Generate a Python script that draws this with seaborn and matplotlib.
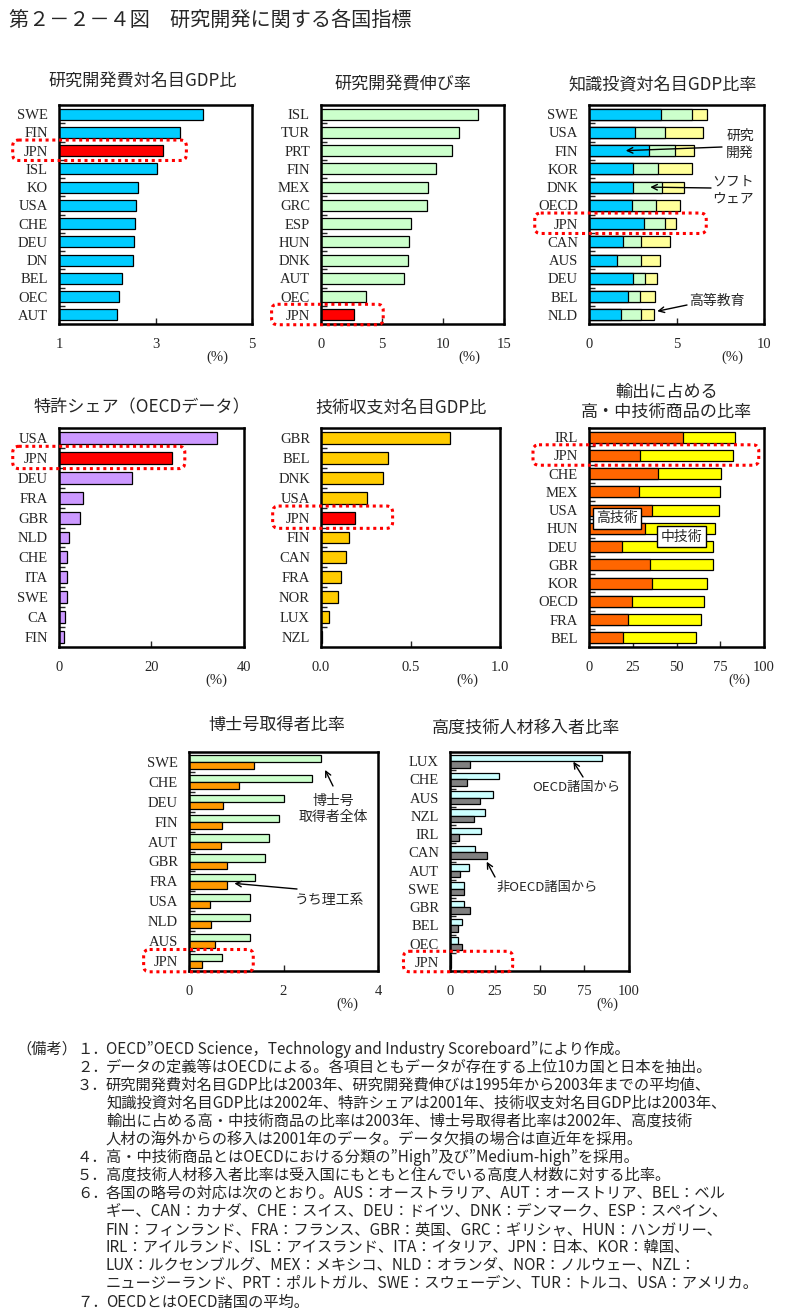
import numpy as np
import pandas as pd
import matplotlib
matplotlib.use("Agg")
import matplotlib.pyplot as plt
from matplotlib.patches import FancyBboxPatch
from matplotlib.transforms import blended_transform_factory
import seaborn as sns

sns.set_style("ticks")
plt.rcParams["font.family"] = ["Noto Sans CJK JP", "DejaVu Sans"]

W, H = 794, 1315
SERIF = ["Liberation Serif", "DejaVu Serif"]
RED = "#FF0000"

# ─────────────────────────────────────────────
# data
# ─────────────────────────────────────────────
rd_countries = ["SWE", "FIN", "JPN", "ISL", "KO", "USA", "CHE", "DEU", "DN", "BEL", "OEC", "AUT"]
rd_values = [3.99, 3.51, 3.16, 3.04, 2.64, 2.60, 2.58, 2.56, 2.54, 2.31, 2.25, 2.21]

growth_countries = ["ISL", "TUR", "PRT", "FIN", "MEX", "GRC", "ESP", "HUN", "DNK", "AUT", "OEC", "JPN"]
growth_values = [12.9, 11.3, 10.7, 9.4, 8.8, 8.7, 7.4, 7.2, 7.1, 6.8, 3.7, 2.7]

know_countries = ["SWE", "USA", "FIN", "KOR", "DNK", "OECD", "JPN", "CAN", "AUS", "DEU", "BEL", "NLD"]
know_rd = [4.13, 2.64, 3.44, 2.53, 2.53, 2.45, 3.16, 1.96, 1.62, 2.53, 2.24, 1.83]
know_sw = [1.77, 1.73, 1.50, 1.39, 1.63, 1.35, 1.21, 1.01, 1.36, 0.68, 0.65, 1.15]
know_edu = [0.86, 2.15, 1.07, 1.94, 1.28, 1.41, 0.61, 1.65, 1.09, 0.69, 0.89, 0.75]

patent_countries = ["USA", "JPN", "DEU", "FRA", "GBR", "NLD", "CHE", "ITA", "SWE", "CA", "FIN"]
patent_values = [34.2, 24.5, 15.7, 5.2, 4.6, 2.2, 1.8, 1.8, 1.8, 1.4, 1.1]

techbal_countries = ["GBR", "BEL", "DNK", "USA", "JPN", "FIN", "CAN", "FRA", "NOR", "LUX", "NZL"]
techbal_values = [0.72, 0.375, 0.348, 0.258, 0.191, 0.158, 0.141, 0.113, 0.097, 0.046, 0.007]

export_countries = ["IRL", "JPN", "CHE", "MEX", "USA", "HUN", "DEU", "GBR", "KOR", "OECD", "FRA", "BEL"]
export_high = [53.8, 29.1, 39.2, 28.7, 36.1, 32.1, 19.0, 35.0, 36.1, 24.7, 22.4, 19.6]
export_mid = [29.7, 53.2, 36.3, 46.2, 38.2, 40.0, 51.9, 35.9, 31.4, 41.1, 41.7, 41.6]

phd_countries = ["SWE", "CHE", "DEU", "FIN", "AUT", "GBR", "FRA", "USA", "NLD", "AUS", "JPN"]
phd_all = [2.80, 2.61, 2.01, 1.91, 1.70, 1.61, 1.40, 1.30, 1.30, 1.30, 0.70]
phd_sci = [1.38, 1.06, 0.73, 0.70, 0.68, 0.81, 0.81, 0.45, 0.47, 0.54, 0.28]

mig_countries = ["LUX", "CHE", "AUS", "NZL", "IRL", "CAN", "AUT", "SWE", "GBR", "BEL", "OEC", "JPN"]
mig_oecd = [84.9, 27.5, 24.2, 19.7, 17.5, 14.1, 10.8, 8.0, 8.0, 6.9, 4.6, 0.3]
mig_non = [11.3, 9.7, 16.9, 13.6, 5.2, 20.8, 5.8, 8.0, 11.3, 4.6, 6.9, 0.5]

notes = [
    ("１．", "OECD”OECD Science，Technology and Industry Scoreboard”により作成。"),
    ("２．", "データの定義等はOECDによる。各項目ともデータが存在する上位10カ国と日本を抽出。"),
    ("３．", "研究開発費対名目GDP比は2003年、研究開発費伸びは1995年から2003年までの平均値、"),
    ("", "知識投資対名目GDP比は2002年、特許シェアは2001年、技術収支対名目GDP比は2003年、"),
    ("", "輸出に占める高・中技術商品の比率は2003年、博士号取得者比率は2002年、高度技術"),
    ("", "人材の海外からの移入は2001年のデータ。データ欠損の場合は直近年を採用。"),
    ("４．", "高・中技術商品とはOECDにおける分類の”High”及び”Medium-high”を採用。"),
    ("５．", "高度技術人材移入者比率は受入国にもともと住んでいる高度人材数に対する比率。"),
    ("６．", "各国の略号の対応は次のとおり。AUS：オーストラリア、AUT：オーストリア、BEL：ベル"),
    ("", "ギー、CAN：カナダ、CHE：スイス、DEU：ドイツ、DNK：デンマーク、ESP：スペイン、"),
    ("", "FIN：フィンランド、FRA：フランス、GBR：英国、GRC：ギリシャ、HUN：ハンガリー、"),
    ("", "IRL：アイルランド、ISL：アイスランド、ITA：イタリア、JPN：日本、KOR：韓国、"),
    ("", "LUX：ルクセンブルグ、MEX：メキシコ、NLD：オランダ、NOR：ノルウェー、NZL："),
    ("", "ニュージーランド、PRT：ポルトガル、SWE：スウェーデン、TUR：トルコ、USA：アメリカ。"),
    ("７．", "OECDとはOECD諸国の平均。"),
]

fig = plt.figure(figsize=(W / 100, H / 100), dpi=100)


# ─────────────────────────────────────────────
# helpers
# ─────────────────────────────────────────────

def fx(px):
    return px / W


def fy(py):
    return 1 - py / H


def px_axes(l, t, r, b):
    return fig.add_axes([fx(l), fy(b), (r - l) / W, (b - t) / H])


def single_bars(ax, cats, vals, color):
    df = pd.DataFrame({"country": cats, "value": vals})
    pal = {c: (RED if c == "JPN" else color) for c in cats}
    sns.barplot(data=df, x="value", y="country", hue="country", order=cats,
                hue_order=cats, palette=pal, orient="h", width=0.6, saturation=1,
                edgecolor="black", linewidth=0.9, errorbar=None, legend=False, ax=ax)


def stacked_bars(ax, cats, parts, colors):
    cum = np.cumsum(np.array(parts), axis=0)
    for level in reversed(range(len(parts))):
        df = pd.DataFrame({"country": cats, "value": cum[level]})
        sns.barplot(data=df, x="value", y="country", order=cats, color=colors[level],
                    orient="h", width=0.6, saturation=1, edgecolor="black",
                    linewidth=0.9, errorbar=None, ax=ax)


def grouped_bars(ax, cats, series, names, colors):
    df = pd.DataFrame({
        "country": np.tile(cats, len(series)),
        "series": np.repeat(names, len(cats)),
        "value": np.concatenate(series),
    })
    sns.barplot(data=df, x="value", y="country", hue="series", order=cats,
                hue_order=names, palette=dict(zip(names, colors)), orient="h",
                width=0.72, saturation=1, edgecolor="black", linewidth=0.9,
                errorbar=None, legend=False, ax=ax)


def finish(ax, n, xlim, xticks, xlabels, pct_x):
    ax.set_xlim(*xlim)
    ax.set_ylim(n - 0.5, -0.5)
    ax.set_xticks(xticks)
    ax.set_xticklabels(xlabels, fontfamily=SERIF, fontsize=10.5)
    ax.set_xlabel("")
    ax.set_ylabel("")
    for s in ax.spines.values():
        s.set_visible(True)
        s.set_linewidth(1.8)
        s.set_color("black")
    ax.tick_params(axis="x", direction="in", length=4, width=1, pad=10, bottom=True)
    ax.tick_params(axis="y", which="major", length=0, pad=8, left=True)
    ax.set_yticks(np.arange(n - 1) + 0.5, minor=True)
    ax.tick_params(axis="y", which="minor", direction="in", length=4, width=1, left=True)
    for lab in ax.get_yticklabels():
        lab.set_fontfamily(SERIF)
        lab.set_fontsize(10.5)
    ax.text(pct_x, -0.15, "(%)", transform=ax.transAxes, ha="center", va="center",
            fontsize=10.5, family=SERIF)


def jpn_box(ax, idx, x0, x1):
    tr = blended_transform_factory(ax.transAxes, ax.transData)
    bb = ax.get_position()
    ax_w = bb.width * W
    row = bb.height * H / (ax.get_ylim()[0] - ax.get_ylim()[1])
    r = 6.0
    box = FancyBboxPatch((x0, idx - 0.58), x1 - x0, 1.12,
                         boxstyle=f"round,pad=0,rounding_size={r / ax_w}",
                         mutation_aspect=(r / row) / (r / ax_w),
                         transform=tr, clip_on=False, fill=False,
                         edgecolor=RED, linewidth=2.2, linestyle=(0, (1, 1.2)), zorder=5)
    ax.add_patch(box)


def arrow(ax, tip, tail_px):
    ax.annotate("", xy=tip, xycoords="data", xytext=(fx(tail_px[0]), fy(tail_px[1])),
                textcoords="figure fraction",
                arrowprops=dict(arrowstyle="->", lw=1, color="black",
                                shrinkA=0, shrinkB=0, mutation_scale=10))


def label(px, py, text, size=10):
    fig.text(fx(px), fy(py), text, ha="center", va="center", fontsize=size,
             linespacing=1.25)


def title(px, py, text):
    fig.text(fx(px), fy(py), text, ha="center", va="center", fontsize=12.3,
             linespacing=1.15)


# ─────────────────────────────────────────────
# main title
# ─────────────────────────────────────────────
fig.text(fx(9), fy(20), "第２－２－４図　研究開発に関する各国指標", ha="left", va="center",
         fontsize=14.5)

# 1. R&D / GDP
ax1 = px_axes(59, 105, 252, 324)
single_bars(ax1, rd_countries, rd_values, "#00CCFF")
finish(ax1, len(rd_countries), (1, 5), [1, 3, 5], ["1", "3", "5"], 0.82)
jpn_box(ax1, rd_countries.index("JPN"), -0.24, 0.66)
title(143, 82, "研究開発費対名目GDP比")

# 2. R&D growth
ax2 = px_axes(321, 105, 504, 324)
single_bars(ax2, growth_countries, growth_values, "#CCFFCC")
finish(ax2, len(growth_countries), (0, 15), [0, 5, 10, 15], ["0", "5", "10", "15"], 0.81)
jpn_box(ax2, growth_countries.index("JPN"), -0.27, 0.34)
title(403, 85, "研究開発費伸び率")

# 3. knowledge investment
ax3 = px_axes(589, 105, 764, 324)
stacked_bars(ax3, know_countries, [know_rd, know_sw, know_edu],
             ["#00CCFF", "#CCFFCC", "#FFFF99"])
finish(ax3, len(know_countries), (0, 10), [0, 5, 10], ["0", "5", "10"], 0.82)
jpn_box(ax3, know_countries.index("JPN"), -0.31, 0.67)
title(663, 85, "知識投資対名目GDP比率")
arrow(ax3, (2.1, 2), (722, 147))
label(740, 144, "研究\n開発")
arrow(ax3, (3.5, 4), (711, 188))
label(733, 190, "ソフト\nウェア")
arrow(ax3, (3.9, 10.8), (687, 305))
label(717, 301, "高等教育")

# 4. patent share
ax4 = px_axes(59, 428, 244, 647)
single_bars(ax4, patent_countries, patent_values, "#CC99FF")
finish(ax4, len(patent_countries), (0, 40), [0, 20, 40], ["0", "20", "40"], 0.85)
jpn_box(ax4, patent_countries.index("JPN"), -0.25, 0.68)
title(142, 407, "特許シェア（OECDデータ）")

# 5. technology balance
ax5 = px_axes(321, 428, 500, 647)
single_bars(ax5, techbal_countries, techbal_values, "#FFCC00")
finish(ax5, len(techbal_countries), (0, 1), [0, 0.5, 1], ["0.0", "0.5", "1.0"], 0.82)
jpn_box(ax5, techbal_countries.index("JPN"), -0.27, 0.40)
title(401, 408, "技術収支対名目GDP比")

# 6. high/mid-tech exports
ax6 = px_axes(589, 428, 764, 647)
stacked_bars(ax6, export_countries, [export_high, export_mid], ["#FF6600", "#FFFF00"])
finish(ax6, len(export_countries), (0, 100), [0, 25, 50, 75, 100],
       ["0", "25", "50", "75", "100"], 0.86)
jpn_box(ax6, export_countries.index("JPN"), -0.32, 0.97)
title(667, 402, "輸出に占める\n高・中技術商品の比率")
box_style = dict(boxstyle="square,pad=0.25", fc="white", ec="black", lw=1)
ax6.text(16, 4.45, "高技術", ha="center", va="center", fontsize=10, bbox=box_style, zorder=6)
ax6.text(53, 5.47, "中技術", ha="center", va="center", fontsize=10, bbox=box_style, zorder=6)

# 7. doctorates
ax7 = px_axes(189, 752, 378, 971)
grouped_bars(ax7, phd_countries, [phd_all, phd_sci], ["all", "sci"], ["#CCFFCC", "#FF9900"])
finish(ax7, len(phd_countries), (0, 4), [0, 2, 4], ["0", "2", "4"], 0.84)
jpn_box(ax7, phd_countries.index("JPN"), -0.24, 0.34)
title(277, 725, "博士号取得者比率")
arrow(ax7, (2.88, 0.4), (333, 786))
label(333, 809, "博士号\n取得者全体")
arrow(ax7, (0.96, 6.1), (297, 889))
label(329, 900, "うち理工系")

# 8. skilled migrants
ax8 = px_axes(450, 752, 629, 971)
grouped_bars(ax8, mig_countries, [mig_oecd, mig_non], ["oecd", "non"], ["#CCFFFF", "#808080"])
finish(ax8, len(mig_countries), (0, 100), [0, 25, 50, 75, 100],
       ["0", "25", "50", "75", "100"], 0.88)
jpn_box(ax8, mig_countries.index("JPN"), -0.26, 0.35)
title(526, 728, "高度技術人材移入者比率")
arrow(ax8, (68.9, 0.03), (583, 777))
label(576, 788, "OECD諸国から", size=9.5)
arrow(ax8, (20.5, 5.51), (495, 877))
label(547, 887, "非OECD諸国から", size=9.5)

# ─────────────────────────────────────────────
# notes
# ─────────────────────────────────────────────
fig.text(fx(16), fy(1049), "（備考）", ha="left", va="center", fontsize=11)
for i, (num, txt) in enumerate(notes):
    y = 1049 + i * 18.07
    if num:
        fig.text(fx(77), fy(y), num, ha="left", va="center", fontsize=11)
    fig.text(fx(106), fy(y), txt, ha="left", va="center", fontsize=11)

fig.savefig("out.png", dpi=100)
